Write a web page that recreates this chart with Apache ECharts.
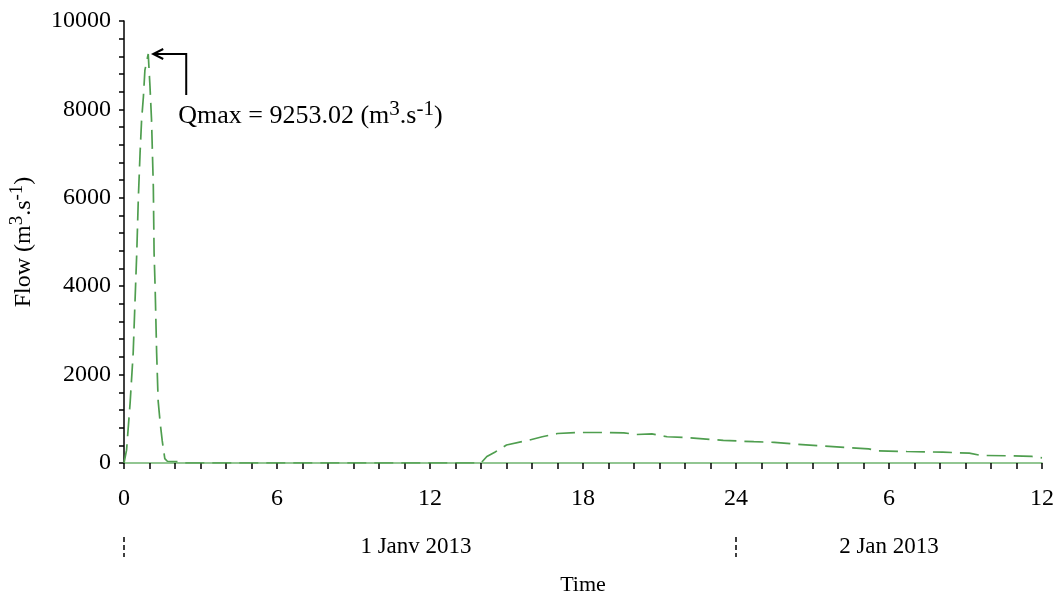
<!DOCTYPE html>
<html>
<head>
<meta charset="utf-8">
<script src="https://cdn.jsdelivr.net/npm/echarts@6/dist/echarts.min.js"></script>
<style>
html,body{margin:0;padding:0;background:#fff;}
#c{width:1056px;height:601px;}
</style>
</head>
<body>
<div id="c"></div>
<script>
// Time in hours since 1 Jan 2013 00:00
const hours = [0, 0.1, 0.24, 0.36, 0.43, 0.5, 0.56, 0.63, 0.69, 0.76, 0.82, 0.95, 1.02, 1.08, 1.15, 1.18, 1.22, 1.28, 1.34, 1.42, 1.5, 1.6, 1.7, 2.2, 2.4,
  14.0, 14.23, 14.54, 15.0, 15.9, 16.4, 17.0, 17.8, 18.7, 19.6, 20.1, 20.7, 21.3, 22.2, 23.5, 24.7, 25.5, 26.4, 27.8, 29.2, 29.6, 30.7, 32.1, 33.15, 33.6, 34.7, 35.6, 36];
const flow = [0, 290, 1360, 2490, 3620, 4750, 5950, 7010, 7760, 8280, 8890, 9253.02, 8510, 7760, 6250, 4750, 3990, 2490, 1400, 900, 500, 100, 40, 30, 0,
  0, 148, 245, 408, 519, 594, 668, 690, 690, 683, 645, 660, 594, 571, 512, 482, 467, 423, 371, 319, 274, 260, 245, 223, 171, 163, 148, 115];
const xTickLabels = {0:'0', 6:'6', 12:'12', 18:'18', 24:'24', 30:'6', 36:'12'};
const dayLabels = [{t: 11.45, text: '1 Janv 2013'}, {t: 30, text: '2 Jan 2013'}];
const dayMarks = [0, 24];
const peak = {t: 0.95, q: 9253.02};

const FONT = 'Liberation Serif';
const chart = echarts.init(document.getElementById('c'));
const data = hours.map((h, i) => [h, flow[i]]);

chart.setOption({
  animation: false,
  grid: {left: 124, right: 14, top: 21, bottom: 138, containLabel: false, outerBoundsMode: 'none'},
  xAxis: {
    type: 'value', min: 0, max: 36, interval: 6,
    name: 'Time', nameLocation: 'middle', nameGap: 111,
    nameTextStyle: {fontFamily: FONT, fontSize: 22, color: '#000'},
    axisLine: {lineStyle: {color: '#6fb46f', width: 1.5}},
    axisTick: {show: true, length: 6, lineStyle: {color: '#000', width: 1.5}},
    minorTick: {show: true, splitNumber: 6, length: 6, lineStyle: {color: '#000', width: 1.5}},
    splitLine: {show: false},
    axisLabel: {margin: 24, fontFamily: FONT, fontSize: 24, color: '#000', formatter: v => xTickLabels[v] !== undefined ? xTickLabels[v] : ''}
  },
  yAxis: {
    type: 'value', min: 0, max: 10000, interval: 2000,
    name: '{n|Flow (m}{s|3}{n|.s}{s|-1}{n|)}', nameLocation: 'middle', nameGap: 85, nameRotate: 90,
    nameTextStyle: {fontFamily: FONT, fontSize: 24, color: '#000',
      rich: {n: {fontFamily: FONT, fontSize: 24, color: '#000'},
             s: {fontFamily: FONT, fontSize: 19, color: '#000', padding: [0, 0, 12, 0]}}},
    axisLine: {show: true, lineStyle: {color: '#000', width: 1.5}},
    axisTick: {show: true, length: 5, lineStyle: {color: '#000', width: 1.5}},
    minorTick: {show: true, splitNumber: 5, length: 5, lineStyle: {color: '#000', width: 1.5}},
    splitLine: {show: false},
    axisLabel: {margin: 13, fontFamily: FONT, fontSize: 24, color: '#000', formatter: v => String(v)}
  },
  series: [{
    type: 'line', data: data, showSymbol: false, smooth: false,
    lineStyle: {color: '#4f9e4f', width: 1.7, type: [19, 8]},
    z: 3
  }]
});

function build() {
  const px = v => chart.convertToPixel({gridIndex: 0}, v);
  const p = px([peak.t, peak.q]);
  const base = px([0, 0]);
  const g = [];
  const ax = p[0] + 5, ay = p[1];
  g.push({type: 'polyline', shape: {points: [[ax, ay], [ax + 33, ay], [ax + 33, ay + 41]]}, style: {stroke: '#000', lineWidth: 2, fill: null}});
  g.push({type: 'polyline', shape: {points: [[ax + 10, ay - 5], [ax, ay], [ax + 10, ay + 5]]}, style: {stroke: '#000', lineWidth: 2, fill: null}});
  g.push({type: 'text', x: ax + 25, y: ay + 62,
    style: {text: '{n|Qmax = 9253.02 (m}{s|3}{n|.s}{s|-1}{n|)}', textVerticalAlign: 'middle', verticalAlign: 'middle',
      rich: {n: {fontFamily: FONT, fontSize: 26, fill: '#000', color: '#000'},
             s: {fontFamily: FONT, fontSize: 21, fill: '#000', color: '#000', padding: [0, 0, 14, 0]}}}});
  const yRow = base[1] + 84;
  dayMarks.forEach(t => {
    const q = px([t, 0]);
    g.push({type: 'line', shape: {x1: q[0], y1: yRow - 10, x2: q[0], y2: yRow + 10}, style: {stroke: '#000', lineWidth: 1.5, lineDash: [5, 3]}});
  });
  dayLabels.forEach(d => {
    const q = px([d.t, 0]);
    g.push({type: 'text', x: q[0], y: yRow, style: {text: d.text, font: '23px "Liberation Serif"', fill: '#000', textAlign: 'center', textVerticalAlign: 'middle', align: 'center', verticalAlign: 'middle'}});
  });
  chart.setOption({graphic: g});
}
build();
</script>
</body>
</html>
